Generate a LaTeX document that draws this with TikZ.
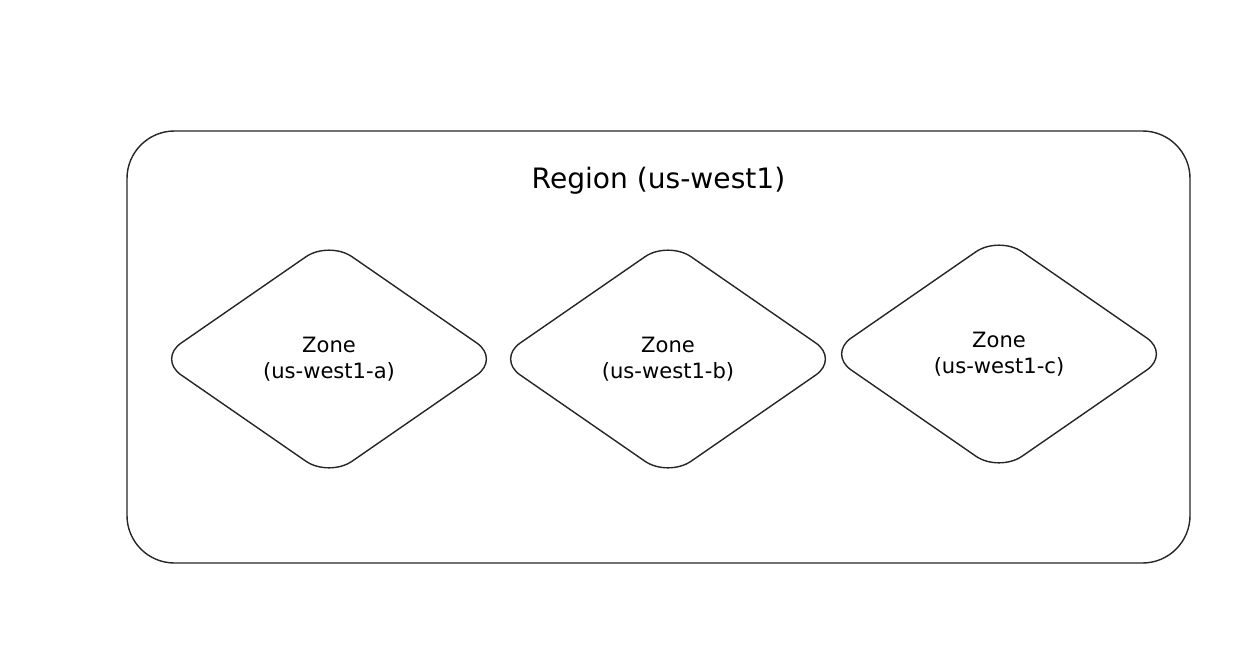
\documentclass[tikz,border=0pt]{standalone}
\usepackage{fontspec}
\setmainfont{DejaVu Sans}
\usetikzlibrary{shapes.geometric,positioning}

\begin{document}
\begin{tikzpicture}[x=0.02cm,y=-0.02cm]
\tikzstyle{every node}+=[inner sep=0pt]
\tikzstyle{zone}=[draw=black!85,line width=0.8pt,diamond,rounded corners=16pt,minimum width=6.85cm,minimum height=4.74cm,align=center,font=\fontsize{12}{14.5}\selectfont]
\useasboundingbox (0,0) rectangle (1257,659);
\node [draw=black!85,line width=0.8pt,rounded corners=0.95cm,minimum width=1063*0.02cm,minimum height=432*0.02cm] (region) at (658.5,347) {};
\node [below=0.72cm of region.north,font=\fontsize{16}{19}\selectfont] (title) {Region (us-west1)};
\node [zone] (zonea) at (329,359) {Zone\\(us-west1-a)};
\node [zone] (zoneb) at (668,359) {Zone\\(us-west1-b)};
\node [zone] (zonec) at (999,354) {Zone\\(us-west1-c)};
\end{tikzpicture}
\end{document}
